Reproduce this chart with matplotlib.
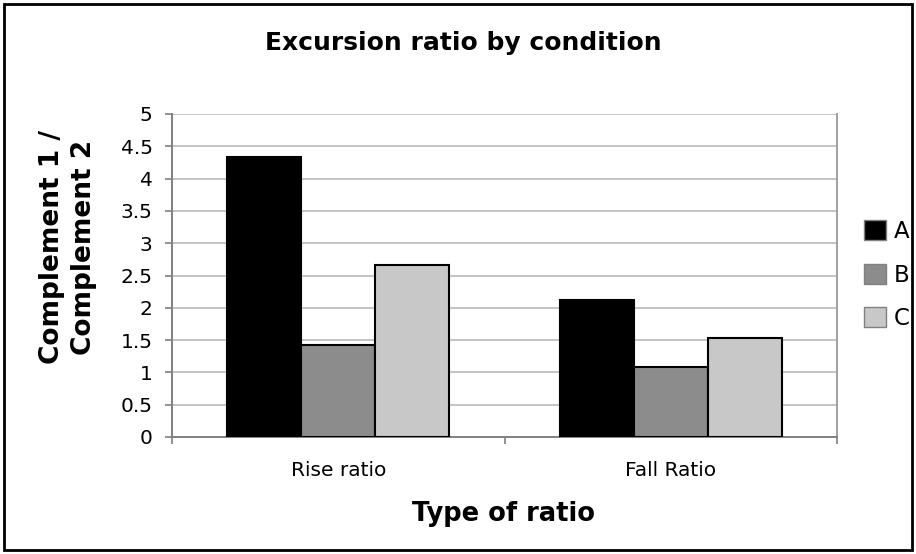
import matplotlib
matplotlib.use('Agg')
import numpy as np
import matplotlib.pyplot as plt
from matplotlib.patches import Rectangle, Patch

# ratio values per condition
categories = ['Rise ratio', 'Fall Ratio']
series_names = ['A', 'B', 'C']
vals_a = [4.33, 2.12]
vals_b = [1.42, 1.085]
vals_c = [2.66, 1.535]
colors = ['#000000', '#8c8c8c', '#c8c8c8']

plt.rcParams['font.family'] = ['DejaVu Sans']

W, H = 916, 554
fig = plt.figure(figsize=(W / 100, H / 100), dpi=100)
ax = fig.add_axes([172/W, 1 - 437/H, (837-172)/W, (437-114)/H])

x = np.arange(len(categories))
w = 1 / 4.5  # excel default gap width of 150%
for i, vals in enumerate([vals_a, vals_b, vals_c]):
	ax.bar(x + (i - 1) * w, vals, w, color=colors[i], edgecolor='black', linewidth=1.5, zorder=3)

ax.set_xlim(-0.5, 1.5)
ax.set_ylim(0, 5)
ax.set_yticks(np.arange(0, 5.01, 0.5))
ax.set_yticklabels(['0', '0.5', '1', '1.5', '2', '2.5', '3', '3.5', '4', '4.5', '5'])
ax.yaxis.grid(True, color='#b4b4b4', linewidth=1.1, zorder=0)
ax.set_axisbelow(True)

# category names centred, ticks on the boundaries
ax.set_xticks([-0.5, 0.5, 1.5])
ax.set_xticklabels([])
ax.set_xticks(x, minor=True)
ax.set_xticklabels(categories, minor=True)
ax.tick_params(axis='x', which='minor', length=0, pad=17, labelsize=14.5)
ax.tick_params(axis='x', which='major', length=5, color='#808080', width=1.2)
ax.tick_params(axis='y', length=5, color='#808080', width=1.2, labelsize=14.5, pad=9)

ax.spines['left'].set_color('#808080')
ax.spines['bottom'].set_color('#808080')
ax.spines['right'].set_color('#a0a0a0')
for s in ['left', 'bottom', 'right']:
	ax.spines[s].set_linewidth(1.4)
ax.spines['top'].set_visible(False)

fig.text(463/W, 1 - 43/H, 'Excursion ratio by condition', ha='center', va='center',
		fontsize=18, fontweight='bold')
fig.text(68/W, 1 - 247/H, 'Complement 1 /\nComplement 2', ha='center', va='center',
		rotation=90, multialignment='center', fontsize=19, fontweight='bold', linespacing=1.3)
fig.text(504/W, 1 - 514/H, 'Type of ratio', ha='center', va='center',
		fontsize=18.5, fontweight='bold')

handles = [Patch(facecolor=c, edgecolor='#808080', linewidth=1) for c in colors]
ax.legend(handles, series_names, loc='center left', bbox_to_anchor=(864/W, 1 - 275/H),
		bbox_transform=fig.transFigure, frameon=False, fontsize=16.5, borderpad=0,
		borderaxespad=0, handlelength=0.95, handleheight=0.95, handletextpad=0.35,
		labelspacing=0.9)

# outer chart border
fig.patches.append(Rectangle((4/W, 4/H), 908/W, 546/H, transform=fig.transFigure,
		fill=False, edgecolor='black', linewidth=2))

fig.savefig('out.png', dpi=100)
